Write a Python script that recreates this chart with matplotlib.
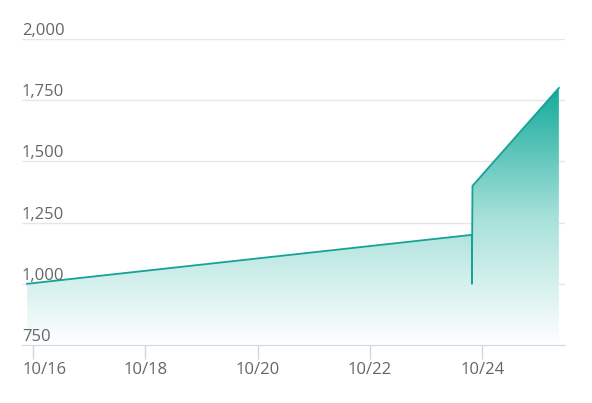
import numpy as np
import pandas as pd
import matplotlib.pyplot as plt
import matplotlib.dates as mdates
from matplotlib.colors import LinearSegmentedColormap
from matplotlib.transforms import blended_transform_factory, ScaledTranslation

# data
dates = pd.to_datetime(["2023-10-15 21:30", "2023-10-23 19:30", "2023-10-23 19:30",
                        "2023-10-23 19:45", "2023-10-25 08:40"])
values = [1000, 1200, 1000, 1400, 1800]
yticks = [750, 1000, 1250, 1500, 1750, 2000]
xtick_dates = pd.to_datetime(["2023-10-16", "2023-10-18", "2023-10-20", "2023-10-22", "2023-10-24"])
xtick_labels = ["10/16", "10/18", "10/20", "10/22", "10/24"]

plt.rcParams['font.family'] = ['Open Sans', 'DejaVu Sans']

fig = plt.figure(figsize=(5.92, 4.03), dpi=100)
ax = fig.add_axes([22/592, 1 - 345/403, (565 - 22)/592, (345 - 39)/403])

x = mdates.date2num(dates)
x0 = mdates.date2num(pd.Timestamp("2023-10-16")) - 0.196
x1 = mdates.date2num(pd.Timestamp("2023-10-16")) + 9.47
ax.set_xlim(x0, x1)
ax.set_ylim(750, 2000)

# gradient area
line_color = "#14a396"
poly = ax.fill_between(x, values, 750, color="none", lw=0)
cmap = LinearSegmentedColormap.from_list("g", ["#ffffff", "#a6e0d9", "#13aa9b"])
grad = np.linspace(0, 1, 256).reshape(-1, 1)
im = ax.imshow(grad, aspect="auto", cmap=cmap, origin="lower",
               extent=[x[0], x[-1], 750, max(values)], zorder=1)
im.set_clip_path(poly.get_paths()[0], transform=ax.transData)
ax.plot(x, values, color=line_color, lw=1.3, zorder=3)

# grid
for v in yticks[1:]:
    ax.axhline(v, color="#e6e6e6", lw=1, zorder=0.5)

ax.set_yticks([])
ax.set_xticks(mdates.date2num(xtick_dates))
ax.set_xticklabels(xtick_labels, color="#666666", fontsize=12)
ax.tick_params(axis="x", length=10, color="#ccd6eb", width=1, pad=2)
for s in ["top", "right", "left"]:
    ax.spines[s].set_visible(False)
ax.spines["bottom"].set_color("#ccd6eb")

# first label is pushed right so it stays inside the plot
first = ax.get_xticklabels()[0]
first.set_horizontalalignment("left")
first.set_transform(first.get_transform() + ScaledTranslation(-10/100, 0, fig.dpi_scale_trans))

tr = blended_transform_factory(ax.transAxes, ax.transData)
for v in yticks:
    ax.text(0.0, v, f"{v:,}", transform=tr, ha="left", va="bottom",
            color="#666666", fontsize=12)

fig.savefig("out.png", dpi=100)
